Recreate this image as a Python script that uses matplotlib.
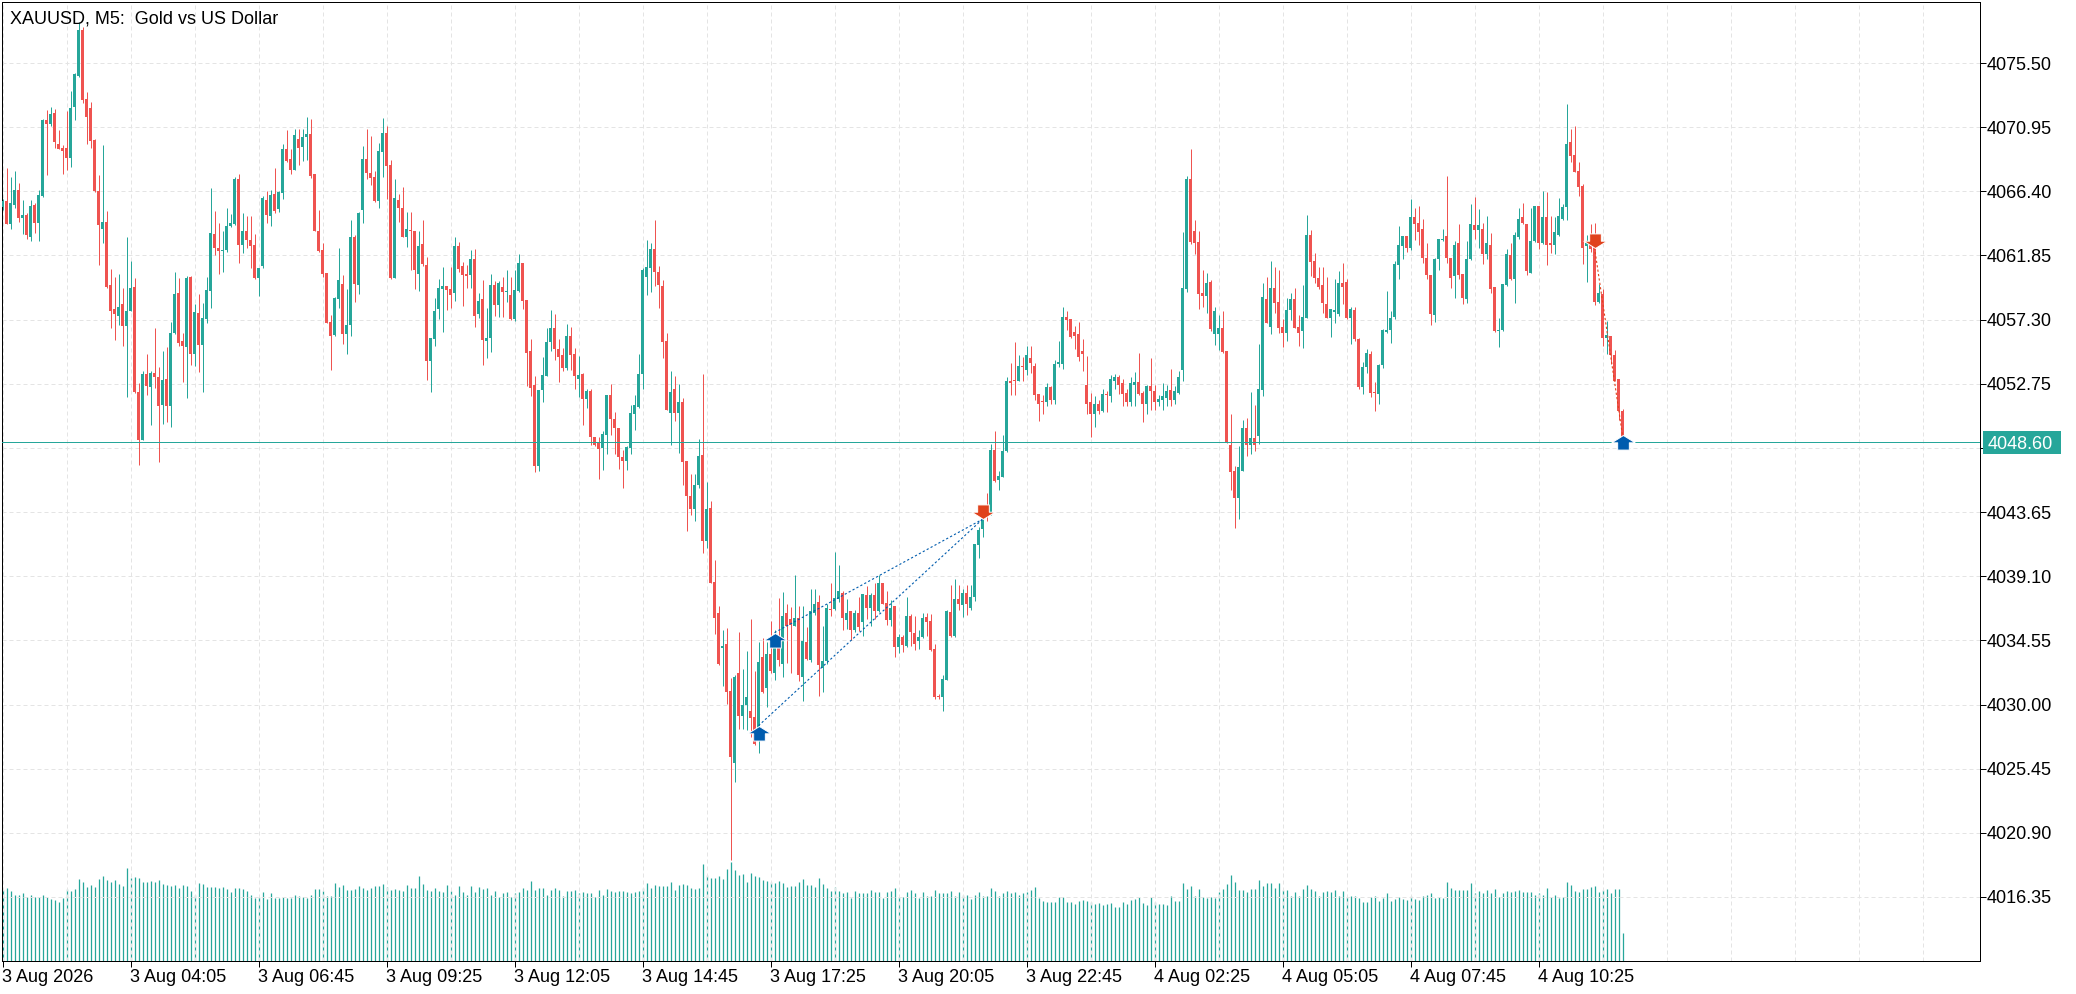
import matplotlib
matplotlib.use("Agg")
import matplotlib.pyplot as plt
import numpy as np
from matplotlib.path import Path
from matplotlib.patches import Rectangle
from matplotlib.transforms import blended_transform_factory

plt.rcParams['font.family'] = ['Liberation Sans', 'DejaVu Sans']
plt.rcParams['font.size'] = 13

chart_title = "XAUUSD, M5:  Gold vs US Dollar"

# M5 candles, 3 Aug 2026 01:25 .. 4 Aug 2026 ~12:10
opens = [
    4065.28, 4065.75, 4064.07, 4065.42, 4066.53, 4064.50, 4064.69, 4063.15, 4065.42, 4064.19,
    4066.08, 4071.49, 4071.18, 4071.94, 4069.73, 4069.47, 4069.47, 4068.76, 4072.36, 4074.59,
    4077.84, 4072.93, 4072.29, 4070.04, 4066.46, 4063.71, 4064.26, 4059.78, 4058.03, 4057.55,
    4058.43, 4056.84, 4057.91, 4059.64, 4052.15, 4048.79, 4053.48, 4052.53, 4053.52, 4053.24,
    4051.23, 4053.10, 4051.20, 4056.32, 4059.19, 4055.75, 4055.35, 4060.33, 4054.83, 4057.79,
    4055.47, 4057.32, 4059.33, 4063.36, 4062.41, 4062.17, 4062.22, 4063.93, 4064.07, 4067.27,
    4062.60, 4063.60, 4062.98, 4062.58, 4060.28, 4061.11, 4065.82, 4064.66, 4066.23, 4065.14,
    4066.27, 4069.40, 4068.69, 4067.91, 4070.14, 4069.52, 4070.26, 4070.45, 4067.60, 4063.62,
    4062.27, 4060.63, 4057.13, 4056.18, 4058.74, 4059.80, 4056.25, 4056.89, 4063.19, 4059.78,
    4065.07, 4068.69, 4067.67, 4067.44, 4065.71, 4069.19, 4070.52, 4068.24, 4060.23, 4065.82,
    4065.23, 4063.15, 4063.67, 4063.62, 4060.52, 4062.68, 4061.17, 4054.35, 4055.94, 4058.04,
    4059.48, 4059.69, 4059.48, 4059.17, 4062.52, 4061.11, 4060.56, 4060.49, 4061.60, 4057.67,
    4058.74, 4055.82, 4055.98, 4059.76, 4058.34, 4059.63, 4059.26, 4059.05, 4057.33, 4059.33,
    4061.32, 4058.71, 4055.11, 4052.66, 4046.91, 4052.32, 4053.27, 4055.73, 4056.74, 4055.21,
    4054.81, 4053.85, 4056.13, 4054.87, 4053.12, 4053.42, 4051.64, 4052.26, 4048.97, 4048.60,
    4048.20, 4049.12, 4051.95, 4050.23, 4049.64, 4047.58, 4047.28, 4048.20, 4050.60, 4051.12,
    4053.42, 4060.34, 4060.96, 4062.31, 4060.71, 4059.66, 4055.79, 4050.66, 4052.35, 4050.66,
    4051.43, 4047.28, 4044.82, 4043.89, 4045.59, 4047.71, 4041.59, 4043.95, 4038.67, 4036.46,
    4034.00, 4034.30, 4030.98, 4025.85, 4032.27, 4029.20, 4029.97, 4029.57, 4029.14, 4027.54,
    4033.35, 4031.14, 4033.60, 4032.21, 4034.52, 4032.89, 4036.52, 4036.06, 4035.59, 4036.15,
    4031.97, 4034.46, 4033.14, 4036.52, 4037.29, 4032.58, 4033.07, 4036.77, 4036.77, 4037.52,
    4037.94, 4035.98, 4036.60, 4035.28, 4036.48, 4035.84, 4037.80, 4036.82, 4037.80, 4036.60,
    4038.65, 4037.21, 4035.98, 4036.96, 4034.07, 4034.80, 4034.15, 4036.26, 4035.08, 4034.52,
    4034.80, 4036.20, 4035.92, 4033.93, 4030.58, 4030.50, 4031.76, 4036.54, 4034.85, 4037.52,
    4037.05, 4037.89, 4036.82, 4037.66, 4041.31, 4042.44, 4043.73, 4043.42, 4048.06, 4045.95,
    4046.15, 4048.00, 4052.97, 4053.05, 4052.92, 4054.04, 4053.76, 4054.60, 4054.01, 4052.05,
    4051.54, 4051.43, 4052.50, 4051.57, 4054.18, 4054.18, 4057.47, 4057.38, 4056.40, 4056.26,
    4055.08, 4052.69, 4051.43, 4050.59, 4051.29, 4050.81, 4052.05, 4051.85, 4052.97, 4053.25,
    4052.83, 4052.13, 4051.48, 4052.69, 4052.89, 4052.13, 4051.29, 4052.61, 4052.27, 4051.48,
    4051.57, 4051.76, 4052.33, 4051.57, 4052.13, 4053.73, 4059.49, 4067.30, 4063.56, 4062.80,
    4059.18, 4059.01, 4059.99, 4056.26, 4056.26, 4056.68, 4055.08, 4048.42, 4046.60, 4044.63,
    4046.59, 4049.62, 4048.39, 4048.91, 4049.03, 4052.30, 4058.79, 4056.80, 4059.57, 4058.58,
    4056.80, 4056.37, 4057.98, 4058.74, 4056.80, 4056.49, 4057.44, 4063.29, 4061.47, 4060.28,
    4059.74, 4058.38, 4057.44, 4057.84, 4057.67, 4059.93, 4060.00, 4057.44, 4057.98, 4055.95,
    4052.53, 4053.96, 4054.88, 4052.18, 4052.06, 4054.08, 4056.42, 4056.56, 4057.51, 4061.16,
    4062.53, 4063.20, 4062.41, 4064.55, 4064.12, 4063.76, 4061.70, 4060.47, 4057.60, 4061.58,
    4062.96, 4063.20, 4061.70, 4060.40, 4062.77, 4060.57, 4058.79, 4061.58, 4064.00, 4063.67,
    4063.72, 4061.94, 4062.58, 4059.64, 4056.49, 4056.56, 4059.74, 4061.87, 4060.16, 4063.19,
    4064.55, 4064.07, 4060.64, 4062.89, 4065.33, 4062.72, 4064.55, 4062.77, 4062.58, 4063.31,
    4064.43, 4065.26, 4069.92, 4068.98, 4067.86, 4066.75, 4062.49, 4062.77, 4062.49, 4058.55,
    4059.10, 4056.02, 4056.14, 4054.76, 4053.06, 4050.81,
]
highs = [
    4065.85, 4068.05, 4067.39, 4067.81, 4066.96, 4065.82, 4064.87, 4065.78, 4065.54, 4066.53,
    4071.54, 4072.18, 4072.36, 4072.22, 4070.75, 4069.71, 4072.08, 4073.55, 4074.78, 4078.41,
    4078.05, 4073.48, 4072.72, 4070.09, 4067.55, 4069.69, 4065.04, 4060.87, 4060.33, 4060.51,
    4059.54, 4063.17, 4061.44, 4060.28, 4052.81, 4053.69, 4054.83, 4053.67, 4056.72, 4053.93,
    4055.09, 4055.33, 4057.13, 4060.71, 4060.26, 4056.37, 4060.40, 4060.40, 4058.41, 4059.14,
    4058.50, 4060.33, 4066.63, 4065.04, 4064.12, 4063.62, 4065.21, 4064.76, 4067.39, 4067.60,
    4064.83, 4064.62, 4064.62, 4063.38, 4060.99, 4066.06, 4066.44, 4066.49, 4068.05, 4066.42,
    4069.73, 4070.78, 4069.40, 4070.82, 4070.82, 4070.82, 4071.65, 4071.51, 4067.62, 4065.07,
    4062.72, 4060.63, 4057.60, 4058.93, 4062.41, 4060.47, 4059.50, 4064.40, 4063.31, 4064.95,
    4069.64, 4070.85, 4070.35, 4067.86, 4069.81, 4071.58, 4071.01, 4068.64, 4067.27, 4066.18,
    4066.68, 4064.92, 4064.97, 4063.62, 4063.60, 4064.34, 4061.72, 4056.01, 4058.80, 4060.19,
    4061.05, 4059.69, 4061.05, 4063.17, 4062.80, 4061.42, 4061.20, 4062.25, 4062.34, 4059.17,
    4060.13, 4058.13, 4060.56, 4060.06, 4060.03, 4060.34, 4060.80, 4060.34, 4060.80, 4061.97,
    4061.32, 4058.71, 4055.94, 4053.30, 4052.32, 4054.65, 4056.71, 4057.97, 4057.67, 4055.94,
    4055.27, 4056.96, 4056.81, 4055.27, 4054.72, 4053.55, 4052.41, 4052.35, 4048.97, 4048.97,
    4049.37, 4051.98, 4052.75, 4050.72, 4049.64, 4048.04, 4048.35, 4051.27, 4051.98, 4054.87,
    4060.96, 4062.95, 4062.71, 4064.37, 4061.11, 4060.13, 4056.34, 4053.67, 4053.27, 4052.75,
    4051.73, 4047.28, 4046.35, 4046.35, 4048.81, 4053.42, 4045.80, 4044.42, 4040.27, 4036.98,
    4035.29, 4035.44, 4031.91, 4032.06, 4035.13, 4032.52, 4033.81, 4036.06, 4032.37, 4034.43,
    4034.73, 4034.43, 4035.96, 4035.29, 4037.59, 4037.99, 4037.13, 4036.92, 4039.22, 4036.98,
    4036.98, 4035.50, 4038.21, 4038.21, 4037.75, 4035.59, 4037.13, 4038.59, 4040.84, 4039.91,
    4038.08, 4037.47, 4036.60, 4036.68, 4037.61, 4037.86, 4038.42, 4037.94, 4038.59, 4039.21,
    4038.65, 4038.03, 4037.38, 4036.96, 4035.00, 4034.91, 4037.61, 4036.40, 4036.26, 4035.28,
    4036.48, 4036.48, 4036.40, 4034.29, 4030.78, 4032.10, 4036.68, 4038.45, 4038.93, 4038.51,
    4038.22, 4038.51, 4038.51, 4041.37, 4042.58, 4044.12, 4044.97, 4048.48, 4049.41, 4046.60,
    4049.12, 4053.25, 4054.24, 4055.73, 4054.80, 4054.66, 4055.45, 4055.45, 4054.24, 4052.05,
    4051.99, 4052.83, 4052.61, 4054.43, 4055.78, 4058.17, 4057.89, 4057.38, 4056.82, 4057.13,
    4055.92, 4054.74, 4052.13, 4051.85, 4051.57, 4052.41, 4052.27, 4053.39, 4053.45, 4053.34,
    4053.11, 4052.41, 4053.25, 4053.62, 4054.94, 4052.27, 4052.69, 4054.57, 4052.69, 4051.94,
    4052.78, 4052.69, 4053.82, 4052.61, 4053.68, 4063.51, 4067.50, 4069.41, 4064.35, 4063.56,
    4060.84, 4060.64, 4060.13, 4058.23, 4057.61, 4057.94, 4055.08, 4050.59, 4046.93, 4048.34,
    4050.21, 4050.33, 4052.16, 4051.28, 4055.54, 4059.93, 4060.35, 4061.47, 4061.00, 4060.83,
    4057.37, 4058.86, 4059.17, 4059.57, 4057.60, 4059.74, 4064.71, 4063.65, 4062.06, 4061.00,
    4061.00, 4060.35, 4058.03, 4060.16, 4060.76, 4061.35, 4060.16, 4058.22, 4058.22, 4056.02,
    4054.29, 4055.19, 4055.07, 4052.87, 4054.12, 4056.61, 4059.33, 4057.91, 4061.47, 4063.91,
    4063.24, 4063.20, 4065.85, 4065.19, 4065.33, 4064.43, 4062.77, 4060.47, 4061.70, 4063.05,
    4063.72, 4067.46, 4061.70, 4062.89, 4064.07, 4060.57, 4062.89, 4065.49, 4065.97, 4065.14,
    4064.14, 4064.62, 4063.48, 4059.64, 4057.44, 4059.86, 4062.34, 4062.77, 4063.53, 4065.19,
    4065.56, 4064.07, 4065.19, 4065.33, 4065.33, 4066.44, 4066.37, 4064.62, 4064.55, 4065.90,
    4065.49, 4072.60, 4070.82, 4071.06, 4068.45, 4066.91, 4063.29, 4064.07, 4064.19, 4059.81,
    4059.45, 4057.20, 4056.14, 4055.14, 4053.06, 4050.97,
]
lows = [
    4065.10, 4064.07, 4063.71, 4065.25, 4064.26, 4063.41, 4063.05, 4062.86, 4063.48, 4062.86,
    4065.97, 4067.55, 4071.06, 4069.47, 4069.38, 4067.62, 4067.93, 4068.12, 4071.46, 4074.50,
    4072.67, 4069.76, 4069.47, 4066.35, 4061.18, 4062.74, 4059.57, 4056.70, 4055.89, 4056.89,
    4055.42, 4051.79, 4057.88, 4052.10, 4047.01, 4048.79, 4051.98, 4049.83, 4052.46, 4047.17,
    4049.92, 4050.02, 4049.66, 4056.30, 4055.44, 4052.88, 4051.72, 4054.09, 4054.00, 4053.57,
    4052.15, 4057.03, 4058.15, 4061.89, 4060.54, 4060.68, 4062.10, 4063.90, 4064.00, 4061.32,
    4062.01, 4062.41, 4060.99, 4060.21, 4058.97, 4060.94, 4064.19, 4063.95, 4064.83, 4064.97,
    4065.85, 4068.50, 4067.60, 4067.91, 4068.27, 4068.57, 4068.64, 4067.34, 4063.57, 4062.10,
    4060.33, 4057.03, 4053.76, 4056.13, 4058.10, 4055.59, 4054.87, 4056.13, 4058.55, 4059.09,
    4064.17, 4067.25, 4066.84, 4065.66, 4065.21, 4067.39, 4065.85, 4060.18, 4060.23, 4064.24,
    4063.15, 4062.46, 4060.80, 4059.50, 4059.31, 4061.11, 4053.05, 4052.19, 4055.42, 4057.36,
    4056.41, 4057.97, 4058.13, 4058.65, 4060.71, 4058.25, 4059.57, 4059.57, 4056.81, 4057.42,
    4054.10, 4054.56, 4055.02, 4057.57, 4057.48, 4057.48, 4058.53, 4057.24, 4057.20, 4059.26,
    4058.04, 4052.56, 4051.89, 4046.48, 4046.60, 4051.43, 4053.27, 4055.11, 4054.41, 4052.87,
    4053.67, 4053.73, 4053.73, 4052.35, 4051.80, 4049.80, 4051.03, 4048.41, 4048.35, 4045.99,
    4046.66, 4047.80, 4049.12, 4047.80, 4046.72, 4045.37, 4046.66, 4047.74, 4049.49, 4051.06,
    4052.35, 4059.02, 4059.26, 4059.66, 4058.10, 4054.56, 4050.90, 4048.44, 4050.14, 4047.83,
    4045.59, 4042.29, 4043.43, 4043.03, 4045.34, 4040.76, 4041.13, 4038.61, 4034.98, 4032.83,
    4031.35, 4030.06, 4018.99, 4024.53, 4028.28, 4028.28, 4028.16, 4027.73, 4027.14, 4026.53,
    4030.83, 4029.82, 4032.27, 4031.75, 4032.74, 4031.97, 4032.98, 4032.27, 4035.59, 4031.66,
    4030.28, 4033.14, 4033.04, 4036.36, 4030.61, 4030.89, 4032.89, 4036.26, 4036.68, 4037.24,
    4035.28, 4035.36, 4034.57, 4035.14, 4035.19, 4034.85, 4036.06, 4035.56, 4036.06, 4036.54,
    4037.10, 4035.64, 4035.56, 4033.37, 4033.68, 4033.73, 4034.07, 4034.15, 4033.87, 4033.96,
    4034.71, 4034.85, 4033.79, 4030.36, 4030.36, 4029.57, 4031.76, 4034.80, 4034.80, 4036.68,
    4036.20, 4036.32, 4036.68, 4037.33, 4040.39, 4041.88, 4043.00, 4043.42, 4045.81, 4045.25,
    4046.15, 4047.92, 4051.99, 4051.99, 4052.92, 4052.92, 4053.34, 4053.53, 4051.57, 4050.11,
    4050.59, 4051.15, 4051.29, 4051.29, 4053.96, 4053.82, 4056.54, 4055.98, 4055.22, 4054.38,
    4053.68, 4050.59, 4048.96, 4049.69, 4050.59, 4050.73, 4050.73, 4051.48, 4052.41, 4052.05,
    4051.15, 4051.15, 4051.20, 4051.20, 4051.99, 4050.03, 4050.59, 4050.87, 4050.87, 4051.15,
    4050.87, 4051.15, 4051.15, 4051.29, 4052.05, 4052.97, 4059.29, 4062.66, 4061.96, 4058.03,
    4058.17, 4057.75, 4056.48, 4055.50, 4055.14, 4054.94, 4048.56, 4045.19, 4042.50, 4043.14,
    4046.54, 4047.61, 4047.80, 4048.01, 4048.51, 4051.87, 4057.04, 4056.25, 4057.79, 4056.37,
    4055.38, 4055.78, 4057.27, 4056.68, 4055.43, 4055.31, 4057.44, 4060.40, 4059.93, 4059.45,
    4057.75, 4057.39, 4056.09, 4057.08, 4057.56, 4058.39, 4057.37, 4055.54, 4055.78, 4052.35,
    4052.06, 4053.53, 4051.82, 4050.81, 4051.35, 4053.84, 4056.33, 4055.61, 4057.32, 4060.21,
    4061.58, 4062.11, 4062.25, 4062.96, 4062.58, 4061.30, 4060.16, 4056.89, 4057.13, 4060.83,
    4062.89, 4061.30, 4059.57, 4058.86, 4060.16, 4058.39, 4058.46, 4061.54, 4063.05, 4062.41,
    4061.23, 4061.63, 4059.17, 4056.42, 4055.38, 4056.49, 4059.69, 4060.12, 4058.50, 4063.05,
    4064.07, 4060.45, 4060.59, 4062.82, 4062.30, 4062.65, 4061.16, 4062.06, 4061.94, 4063.24,
    4064.38, 4064.38, 4068.45, 4067.74, 4066.09, 4061.23, 4059.97, 4062.11, 4058.31, 4058.50,
    4055.43, 4054.83, 4054.12, 4052.94, 4050.17, 4048.50,
]
closes = [
    4065.68, 4064.07, 4065.54, 4066.53, 4064.50, 4064.69, 4063.29, 4065.37, 4064.19, 4066.16,
    4071.46, 4071.18, 4071.87, 4069.88, 4069.40, 4069.26, 4068.76, 4072.29, 4074.71, 4077.84,
    4072.86, 4071.68, 4069.95, 4066.42, 4064.00, 4064.26, 4059.61, 4057.91, 4057.67, 4058.22,
    4056.84, 4057.93, 4059.57, 4052.15, 4048.79, 4053.48, 4052.58, 4053.52, 4053.22, 4051.15,
    4053.05, 4051.20, 4056.37, 4059.14, 4055.61, 4055.42, 4060.28, 4054.83, 4057.81, 4055.47,
    4057.39, 4059.38, 4063.43, 4062.36, 4062.17, 4062.27, 4063.93, 4064.12, 4067.27, 4062.60,
    4063.60, 4062.96, 4062.51, 4060.28, 4060.99, 4065.90, 4064.71, 4066.16, 4065.04, 4066.32,
    4069.40, 4068.55, 4067.91, 4070.37, 4069.50, 4070.26, 4070.45, 4067.51, 4063.57, 4062.17,
    4060.56, 4057.08, 4056.13, 4058.81, 4060.09, 4056.25, 4056.89, 4063.19, 4059.85, 4064.85,
    4068.69, 4067.72, 4067.34, 4065.71, 4069.24, 4070.52, 4068.19, 4060.23, 4065.90, 4065.23,
    4063.15, 4063.74, 4063.57, 4060.80, 4062.55, 4061.23, 4054.35, 4056.01, 4057.91, 4059.54,
    4059.69, 4059.42, 4059.05, 4062.52, 4060.89, 4060.49, 4060.43, 4061.60, 4057.57, 4058.59,
    4055.88, 4055.98, 4059.76, 4058.31, 4059.88, 4059.26, 4059.32, 4057.33, 4059.42, 4061.32,
    4058.65, 4054.96, 4052.44, 4046.91, 4052.32, 4053.36, 4055.73, 4056.74, 4055.21, 4054.65,
    4053.85, 4056.13, 4054.81, 4053.27, 4053.36, 4051.64, 4052.26, 4048.97, 4048.44, 4048.14,
    4049.18, 4051.95, 4050.23, 4049.61, 4047.58, 4047.28, 4048.29, 4050.66, 4051.27, 4053.42,
    4060.80, 4061.05, 4062.31, 4060.65, 4059.73, 4055.73, 4050.90, 4052.19, 4050.66, 4051.49,
    4047.22, 4044.82, 4043.89, 4045.59, 4047.65, 4041.59, 4043.89, 4038.61, 4036.15, 4032.89,
    4034.15, 4030.89, 4026.28, 4031.97, 4029.20, 4029.97, 4030.52, 4029.05, 4027.23, 4033.04,
    4030.89, 4033.60, 4032.37, 4034.30, 4033.14, 4036.27, 4035.59, 4035.66, 4036.15, 4032.06,
    4034.52, 4033.20, 4036.61, 4037.13, 4032.83, 4033.07, 4036.82, 4036.68, 4037.58, 4038.08,
    4036.17, 4036.48, 4035.28, 4036.48, 4035.47, 4037.86, 4036.88, 4037.80, 4036.60, 4038.59,
    4037.16, 4036.03, 4036.82, 4034.07, 4034.80, 4034.21, 4036.26, 4035.14, 4034.29, 4034.80,
    4036.12, 4035.84, 4033.87, 4030.50, 4030.50, 4031.82, 4036.60, 4034.85, 4037.52, 4037.10,
    4037.89, 4037.10, 4037.66, 4041.37, 4042.38, 4043.06, 4043.42, 4048.06, 4045.87, 4046.23,
    4048.00, 4052.97, 4052.83, 4052.92, 4054.04, 4053.96, 4054.80, 4054.24, 4051.94, 4051.29,
    4051.43, 4052.50, 4051.57, 4054.18, 4054.29, 4057.47, 4057.27, 4056.06, 4056.15, 4054.66,
    4054.88, 4051.29, 4050.59, 4051.29, 4050.81, 4052.05, 4051.94, 4053.06, 4053.25, 4052.69,
    4052.05, 4051.48, 4052.78, 4052.89, 4052.05, 4051.29, 4052.61, 4052.22, 4051.48, 4051.65,
    4051.85, 4052.22, 4051.57, 4052.22, 4053.25, 4059.57, 4067.30, 4062.80, 4062.72, 4059.15,
    4059.01, 4059.91, 4056.62, 4057.89, 4056.71, 4055.02, 4048.62, 4046.51, 4044.63, 4046.88,
    4049.62, 4048.39, 4048.91, 4048.44, 4052.39, 4058.93, 4057.04, 4059.57, 4058.50, 4056.73,
    4056.37, 4057.98, 4058.74, 4056.73, 4056.37, 4057.51, 4063.29, 4061.42, 4060.28, 4059.64,
    4058.50, 4057.44, 4058.03, 4057.98, 4059.93, 4059.64, 4057.44, 4058.03, 4055.90, 4052.53,
    4053.96, 4054.95, 4052.11, 4052.11, 4054.08, 4056.56, 4056.56, 4057.44, 4061.23, 4062.60,
    4063.20, 4062.41, 4064.55, 4064.07, 4063.53, 4061.66, 4060.45, 4057.68, 4061.63, 4063.01,
    4063.01, 4061.66, 4060.28, 4062.58, 4060.45, 4058.86, 4061.63, 4064.07, 4063.67, 4064.00,
    4061.94, 4062.72, 4059.50, 4056.49, 4056.56, 4059.86, 4061.94, 4060.16, 4063.29, 4064.43,
    4064.14, 4060.76, 4062.89, 4065.33, 4062.72, 4064.55, 4062.58, 4062.58, 4063.53, 4064.62,
    4065.26, 4069.76, 4068.88, 4067.79, 4066.68, 4062.41, 4062.77, 4062.30, 4058.55, 4059.17,
    4056.02, 4056.18, 4054.76, 4052.98, 4050.81, 4048.60,
]
tick_volume = [
    205,
    209, 200, 191, 191, 194, 185, 191, 185, 185, 191,
    185, 179, 176, 170, 182, 206, 200, 206, 236, 227,
    212, 218, 212, 236, 245, 233, 227, 233, 221, 215,
    266, 239, 242, 239, 227, 227, 230, 227, 233, 221,
    218, 215, 218, 209, 218, 215, 200, 191, 224, 221,
    212, 212, 212, 209, 212, 206, 197, 209, 209, 206,
    200, 191, 182, 185, 197, 179, 194, 182, 182, 185,
    182, 182, 191, 188, 185, 182, 191, 206, 206, 200,
    188, 188, 224, 212, 218, 203, 203, 206, 215, 209,
    203, 209, 215, 215, 221, 212, 203, 206, 203, 200,
    218, 209, 209, 245, 221, 203, 200, 209, 200, 197,
    218, 200, 191, 215, 197, 191, 215, 197, 212, 206,
    209, 191, 200, 185, 194, 197, 185, 194, 197, 209,
    203, 230, 203, 209,
    209, 191, 203, 209, 203, 188, 200, 200, 203, 194,
    197, 194, 194, 185, 203, 191, 206, 200, 197, 200,
    200, 197, 194, 197, 200, 209, 224, 209, 218, 215,
    215, 215, 227, 203, 218, 221, 218, 209, 206, 209,
    278, 248, 239, 239, 245, 236, 263, 284, 260, 248,
    251, 227, 254, 245, 242, 233, 230, 227, 224, 230,
    224, 212, 215, 215, 227, 236, 218, 218, 212, 239,
    221, 209, 200, 212, 200, 194, 197, 182, 200, 194,
    194, 194, 203, 197, 197, 182, 197, 200, 209, 185,
    185, 197, 203, 194, 182, 197, 188, 188, 203, 194,
    194, 194, 200, 188, 197, 191, 191, 179, 191, 197,
    188, 188, 209, 200, 188, 194, 200, 194, 197, 191,
    194, 197, 203, 212, 182, 173, 170, 170, 170, 185,
    185, 170, 170, 164, 173, 176,
    173, 170, 164, 167, 161, 164, 167, 155, 155,
    170, 164, 176, 179, 185, 167, 161, 185, 170, 164,
    164, 161, 188, 173, 173, 224, 206, 215, 188, 206,
    185, 182, 185, 182, 197, 206, 221, 248, 227, 203,
    203, 197, 206, 206, 233, 215, 224, 224, 209, 224,
    203, 203, 188, 197, 188, 206, 218, 206, 200, 188,
    197, 200, 197, 203, 188, 200, 185, 188, 188, 182,
    170, 170, 185, 188, 173, 182, 194, 173, 179, 185,
    179, 176, 188, 179, 176, 188, 191, 194, 182, 185,
    182, 227, 209, 203, 203, 203, 203, 224, 194, 200,
    194, 203, 194, 206, 185, 194, 200, 197, 200, 203,
    197, 197, 197, 191, 194, 191, 209, 185, 191, 182,
    185, 227, 218, 200, 197, 206, 206, 212, 215, 197,
    203, 206, 194, 206, 206, 80,
]

time_labels = ["3 Aug 2026", "3 Aug 04:05", "3 Aug 06:45", "3 Aug 09:25", "3 Aug 12:05",
               "3 Aug 14:45", "3 Aug 17:25", "3 Aug 20:05", "3 Aug 22:45", "4 Aug 02:25",
               "4 Aug 05:05", "4 Aug 07:45", "4 Aug 10:25"]
bars_per_label = 32
price_ticks = [4016.35, 4020.90, 4025.45, 4030.00, 4034.55, 4039.10, 4043.65,
               4048.20, 4052.75, 4057.30, 4061.85, 4066.40, 4070.95, 4075.50]
bid_price = 4048.60

# deals: (bar index, price)
buy_entries = [(189, 4028.5), (193, 4035.1)]
buy_close = (245, 4043.14)
sell_entry = (398, 4062.41)
sell_close = (405, 4049.1)

bull = '#26a69a'
bear = '#ef5350'
buy_col = '#005cae'
sell_col = '#e0421c'

n = min(len(opens), len(highs), len(lows), len(closes), len(tick_volume))
o = np.array(opens[:n]); h = np.array(highs[:n]); l = np.array(lows[:n]); c = np.array(closes[:n])
vol = np.array(tick_volume[:n])
x = np.arange(n)
cols = [bull if cc >= oo else bear for oo, cc in zip(o, c)]

W, H = 2076, 994
fig = plt.figure(figsize=(W / 100, H / 100), dpi=100)
rect = [2 / W, 33 / H, 1978 / W, 959 / H]
ax = fig.add_axes(rect)
ax_vol = ax.twinx()
ax.set_zorder(ax_vol.get_zorder() + 1)
ax.patch.set_visible(False)

# volume histogram at the bottom
ax_vol.vlines(x, 0, vol, colors=bull, linewidth=0.9)
ax_vol.set_ylim(0, vol.max() * 9.7)
ax_vol.set_yticks([])
for s in ax_vol.spines.values():
    s.set_visible(False)

# candles
ax.vlines(x, l, h, colors=cols, linewidth=0.72, zorder=2)
body_h = np.maximum(np.abs(c - o), 0.07)
ax.bar(x, body_h, bottom=np.minimum(o, c), width=0.75, color=cols, linewidth=0, zorder=3)

ax.set_xlim(-0.125, -0.125 + 1978 / 4)
ax.set_ylim(4011.81, 4079.83)

major_x = [i * bars_per_label for i in range(len(time_labels))]
ax.set_xticks(major_x, labels=time_labels)
minor_x = [b for b in range(16, 495, 16) if b not in major_x]
ax.set_xticks(minor_x, minor=True)
ax.tick_params(axis='x', which='minor', length=0)
ax.tick_params(axis='x', which='major', length=4, width=0.72, pad=2)
for lbl in ax.get_xticklabels():
    lbl.set_horizontalalignment('left')

ax.yaxis.tick_right()
ax.set_yticks(price_ticks, labels=[f"{p:.2f}" for p in price_ticks])
ax.tick_params(axis='y', length=4, width=0.72, pad=1)

ax.set_axisbelow(True)
ax.grid(True, which='both', color='#e4e4e4', linestyle=(0, (4, 3)), linewidth=0.72)
for s in ax.spines.values():
    s.set_linewidth(0.72)
    s.set_color('black')

# bid line and price tag
ax.axhline(bid_price, color=bull, linewidth=0.72, zorder=4)
trans = blended_transform_factory(ax.transAxes, ax.transData)
ax.add_patch(Rectangle((1.0015, bid_price - 0.8), 0.0394, 1.6, transform=trans,
                       facecolor=bull, edgecolor='none', clip_on=False, zorder=10))
ax.text(1.0205, bid_price, f"{bid_price:.2f}", transform=trans, color='white',
        ha='center', va='center_baseline', clip_on=False, zorder=11)

# deal arrows (tip at the deal price)
up_v = [(0, 0), (0.8, -0.5), (0.4, -0.5), (0.4, -1.0), (-0.4, -1.0),
        (-0.4, -0.5), (-0.8, -0.5), (0, 0)]
codes = [Path.MOVETO] + [Path.LINETO] * 6 + [Path.CLOSEPOLY]
up_arrow = Path(up_v, codes)
down_arrow = Path([(vx, -vy) for vx, vy in up_v], codes)

for b, p in buy_entries:
    ax.plot([b, buy_close[0]], [p, buy_close[1]], color=buy_col, linewidth=0.8,
            linestyle=(0, (2, 2)), zorder=5)
ax.plot([sell_entry[0], sell_close[0]], [sell_entry[1], sell_close[1]], color=sell_col,
        linewidth=0.8, linestyle=(0, (2, 2)), zorder=5)

bx = [b for b, p in buy_entries] + [sell_close[0]]
by = [p for b, p in buy_entries] + [sell_close[1]]
ax.plot(bx, by, linestyle='none', marker=up_arrow, markersize=21, color=buy_col,
        markeredgecolor='white', markeredgewidth=0.7, zorder=6)
ax.plot([buy_close[0], sell_entry[0]], [buy_close[1], sell_entry[1]], linestyle='none',
        marker=down_arrow, markersize=21, color=sell_col,
        markeredgecolor='white', markeredgewidth=0.7, zorder=6)

ax.text(0.004, 0.978, chart_title, transform=ax.transAxes, ha='left', va='baseline',
        color='black', zorder=7)

fig.savefig('out.png', dpi=100)
